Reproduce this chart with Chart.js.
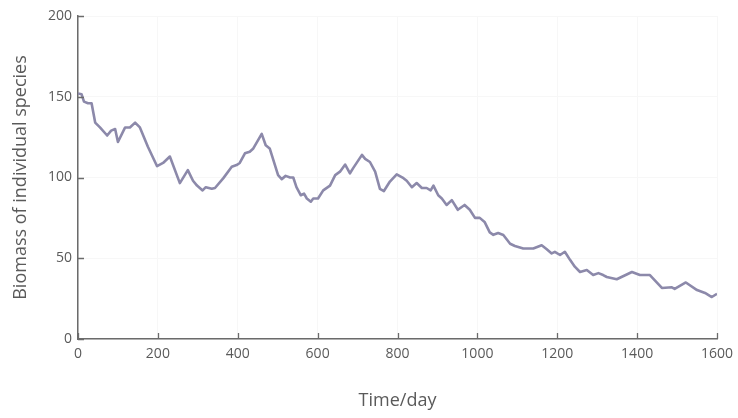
<!DOCTYPE html>
<html>
<head>
<meta charset="utf-8">
<script src="https://cdn.jsdelivr.net/npm/chart.js@4/dist/chart.umd.min.js"></script>
<style>
  html, body { margin: 0; padding: 0; background: #fff; }
  #wrap { width: 738px; height: 418px; }
</style>
</head>
<body>
<div id="wrap"><canvas id="c" width="738" height="418"></canvas></div>
<script>
// Simulated biomass of one species over time
const days = [0, 9, 15, 25, 34, 43, 55, 73, 83, 93, 100, 118, 130, 143, 155, 175, 198, 213, 230, 255,
  275, 288, 298, 312, 320, 335, 343, 364, 385, 397, 405, 418, 430, 439, 460, 470, 480, 501, 510, 520,
  531, 539, 547, 558, 566, 573, 583, 589, 601, 614, 631, 644, 656, 669, 681, 689, 711, 719, 731, 744,
  756, 766, 781, 798, 815, 823, 836, 848, 861, 873, 883, 890, 902, 911, 923, 936, 951, 968, 981, 994,
  1006, 1018, 1031, 1040, 1052, 1065, 1082, 1094, 1115, 1140, 1161, 1173, 1186, 1194, 1207, 1219, 1232, 1244, 1257, 1274,
  1290, 1303, 1315, 1324, 1349, 1387, 1407, 1432, 1462, 1487, 1494, 1522, 1550, 1570, 1587, 1600];
const biomass = [152, 151.5, 147, 146, 146, 134, 131, 126, 129, 130, 122, 131, 131, 134, 131, 119, 107, 109, 113, 96.5,
  104.6, 98, 95, 92, 94, 93, 93.5, 99.6, 106.6, 107.7, 109, 115, 116, 118, 127, 120, 118, 101.5, 99, 101,
  100, 100, 94, 89, 90, 87, 85, 87, 87, 92, 95, 101.5, 103.6, 108, 102.6, 105.8, 114, 111.5, 109.6, 103.6,
  93, 91.6, 97.5, 102, 99.6, 98, 94, 96.6, 93.5, 93.5, 92, 95, 89, 87, 83, 86, 80, 83, 80, 75,
  75, 72.5, 66, 64.5, 65.6, 64.4, 59, 57.6, 56, 56, 58, 55.7, 53, 54, 52, 54, 49, 44.8, 41.5, 42.7,
  39.6, 40.8, 39.6, 38.4, 37, 41.5, 39.6, 39.6, 31.6, 32, 31, 35, 30.3, 28.5, 26, 28];
const xTicks = [0, 200, 400, 600, 800, 1000, 1200, 1400, 1600];
const yTicks = [0, 50, 100, 150, 200];

const axisColor = '#6b6b6b';
const textColor = '#5a5a5a';
const font = 'Open Sans';

// Short tick marks pointing into the plot area
const innerTicks = {
  id: 'innerTicks',
  afterDatasetsDraw(chart) {
    const { ctx, chartArea, scales } = chart;
    ctx.save();
    ctx.strokeStyle = axisColor;
    ctx.lineWidth = 1.3;
    ctx.beginPath();
    xTicks.forEach(v => {
      const px = Math.round(scales.x.getPixelForValue(v)) + 0.5;
      ctx.moveTo(px, chartArea.bottom);
      ctx.lineTo(px, chartArea.bottom - 6);
    });
    yTicks.forEach(v => {
      const py = Math.round(scales.y.getPixelForValue(v)) + 0.5;
      ctx.moveTo(chartArea.left, py);
      ctx.lineTo(chartArea.left + 6, py);
    });
    ctx.stroke();
    ctx.restore();
  }
};

new Chart(document.getElementById('c'), {
  type: 'line',
  data: {
    datasets: [{
      data: days.map((d, i) => ({ x: d, y: biomass[i] })),
      borderColor: '#8c89aa',
      borderWidth: 2.6,
      borderJoinStyle: 'round',
      pointRadius: 0,
      tension: 0,
      fill: false
    }]
  },
  options: {
    responsive: false,
    animation: false,
    events: [],
    layout: { padding: { top: 16, right: 21, left: 10, bottom: 6 } },
    plugins: { legend: { display: false }, tooltip: { enabled: false } },
    scales: {
      x: {
        type: 'linear',
        min: 0, max: 1600,
        afterBuildTicks(s) { s.ticks = xTicks.map(v => ({ value: v })); },
        afterFit(s) { s.height = 73; s.paddingRight = 0; s.paddingLeft = 0; },
        grid: { color: '#f7f7f7', drawTicks: false },
        border: { color: axisColor, width: 1.5 },
        ticks: { color: textColor, padding: 7, font: { family: font, size: 14 }, maxRotation: 0, callback: v => String(v) },
        title: { display: true, text: 'Time/day', color: textColor, font: { family: font, size: 18 }, padding: { top: 0, bottom: 0 } }
      },
      y: {
        min: 0, max: 200,
        afterBuildTicks(s) { s.ticks = yTicks.map(v => ({ value: v })); },
        afterFit(s) { s.width = 68; },
        grid: { color: '#f7f7f7', drawTicks: false },
        border: { color: axisColor, width: 1.5 },
        ticks: { color: textColor, padding: 6, font: { family: font, size: 14 }, callback: v => String(v) },
        title: { display: true, text: 'Biomass of individual species', color: textColor, font: { family: font, size: 18 }, padding: { top: 0, bottom: 0 } }
      }
    }
  },
  plugins: [innerTicks]
});
</script>
</body>
</html>
